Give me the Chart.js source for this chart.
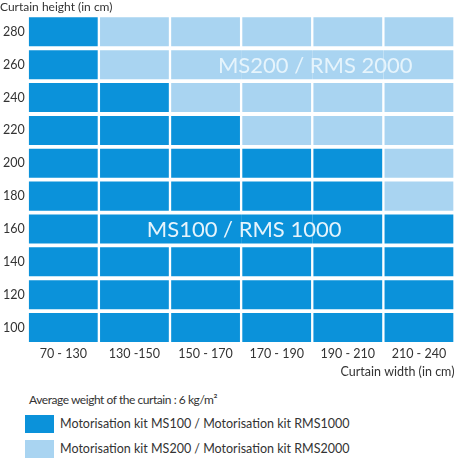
<!DOCTYPE html>
<html>
<head>
<meta charset="utf-8">
<script src="https://cdn.jsdelivr.net/npm/chart.js@4"></script>
<style>
  body { margin: 0; background: #fff; font-family: Lato, sans-serif; color: #333; }
  #wrap { position: relative; width: 465px; height: 465px; }
  #box { position: absolute; left: 0; top: 0; width: 465px; height: 385px; }
  .note { position: absolute; left: 29px; top: 392px; font-size: 12px; letter-spacing: -0.45px; white-space: nowrap; }
  .item { position: absolute; left: 25px; height: 18px; white-space: nowrap; font-size: 12.5px; }
  .item span.sw { position: absolute; left: 0; top: 0; width: 29px; height: 18px; }
  .item span.tx { position: absolute; left: 35px; top: 1px; }
</style>
</head>
<body>
<div id="wrap">
  <div id="box"><canvas id="kitChart"></canvas></div>
  <div class="note">Average weight of the curtain : 6 kg/m²</div>
  <div class="item" style="top:415px"><span class="sw" id="sw0"></span><span class="tx" id="tx0"></span></div>
  <div class="item" style="top:440px"><span class="sw" id="sw1"></span><span class="tx" id="tx1"></span></div>
</div>
<script>
// curtain widths (columns) and heights (rows), in cm
const widths = ['70 - 130', '130 -150', '150 - 170', '170 - 190', '190 - 210', '210 - 240'];
const heights = [100, 120, 140, 160, 180, 200, 220, 240, 260, 280];
// highest curtain the MS100 kit handles for each width, above that it's MS200
const maxHeightMS100 = [280, 240, 220, 200, 200, 160];
const kitNames = ['Motorisation kit MS100 / Motorisation kit RMS1000', 'Motorisation kit MS200 / Motorisation kit RMS2000'];
const kitColors = ['#0b92da', '#a9d4f1'];
// merged cells carrying the kit name
const mergedLabels = [
  { text: 'MS100 / RMS 1000', height: 160, from: 1, to: 4 },
  { text: 'MS200 / RMS 2000', height: 260, from: 2, to: 5 }
];

function mergeFor(h, i) {
  return mergedLabels.find(m => m.height === h && i >= m.from && i <= m.to);
}

const datasets = heights.map(h => ({
  label: String(h),
  data: widths.map(() => [h - 10, h + 10]),
  backgroundColor: widths.map((w, i) => kitColors[h <= maxHeightMS100[i] ? 0 : 1]),
  borderColor: '#ffffff',
  borderSkipped: false,
  borderWidth: ctx => {
    const m = mergeFor(h, ctx.dataIndex);
    return {
      top: 2.25, bottom: 2.25,
      left: m && ctx.dataIndex > m.from ? 0 : 1.5,
      right: m && ctx.dataIndex < m.to ? 0 : 1.5
    };
  },
  categoryPercentage: 1,
  barPercentage: 1
}));

const mergedText = {
  id: 'mergedText',
  afterDatasetsDraw(chart) {
    const { ctx, scales: { x, y } } = chart;
    ctx.save();
    ctx.font = '22px Lato';
    ctx.textAlign = 'center';
    ctx.textBaseline = 'middle';
    ctx.fillStyle = '#e6f4fc';
    mergedLabels.forEach(m => {
      const cx = (x.getPixelForValue(m.from) + x.getPixelForValue(m.to)) / 2;
      ctx.fillText(m.text, cx + 3, y.getPixelForValue(m.height) + 1);
    });
    ctx.restore();
  }
};

document.addEventListener('DOMContentLoaded', () => {
  kitNames.forEach((n, i) => {
    document.getElementById('sw' + i).style.background = kitColors[i];
    document.getElementById('tx' + i).textContent = n;
  });

  Chart.defaults.font.family = 'Lato';
  Chart.defaults.color = '#333333';

  new Chart(document.getElementById('kitChart'), {
    type: 'bar',
    data: { labels: widths, datasets: datasets },
    plugins: [mergedText],
    options: {
      responsive: true,
      maintainAspectRatio: false,
      animation: false,
      layout: { padding: { left: 0, right: 10.5, top: 0, bottom: 5.5 } },
      plugins: {
        legend: { display: false },
        tooltip: { enabled: false },
        title: {
          display: true,
          text: 'Curtain height (in cm)',
          align: 'start',
          color: '#333333',
          font: { size: 12, weight: 'normal' },
          padding: { top: 0, bottom: 1 }
        }
      },
      scales: {
        x: {
          stacked: true,
          grid: { display: false, drawTicks: false },
          border: { display: false },
          ticks: { font: { size: 12.5, lineHeight: 1 }, padding: 4 },
          title: {
            display: true,
            text: 'Curtain width (in cm)',
            align: 'end',
            font: { size: 12.5 },
            padding: { top: 0, bottom: 0 }
          }
        },
        y: {
          stacked: false,
          min: 90,
          max: 290,
          grid: { display: false, drawTicks: false },
          border: { display: false },
          afterBuildTicks: s => { s.ticks = heights.map(v => ({ value: v })); },
          ticks: { font: { size: 12.5 }, padding: 3 }
        }
      }
    }
  });
});
</script>
</body>
</html>
